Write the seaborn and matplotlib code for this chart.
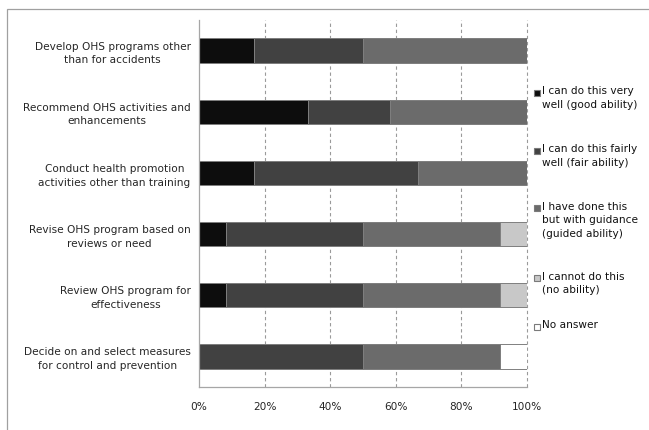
import matplotlib
matplotlib.use("Agg")
import matplotlib.pyplot as plt
import seaborn as sns
import pandas as pd
from matplotlib.patches import Rectangle

# Competency items (top to bottom)
tasks = [
    "Develop OHS programs other\nthan for accidents",
    "Recommend OHS activities and\nenhancements",
    "Conduct health promotion\nactivities other than training",
    "Revise OHS program based on\nreviews or need",
    "Review OHS program for\neffectiveness",
    "Decide on and select measures\nfor control and prevention",
]

# Share of respondents (%) per ability level
good_ability = [16.7, 33.3, 16.7, 8.3, 8.3, 0.0]
fair_ability = [33.3, 25.0, 50.0, 41.7, 41.7, 50.0]
guided_ability = [50.0, 41.7, 33.3, 41.7, 41.7, 41.7]
no_ability = [0.0, 0.0, 0.0, 8.3, 8.3, 0.0]
no_answer = [0.0, 0.0, 0.0, 0.0, 0.0, 8.3]

series_labels = [
    "I can do this very\nwell (good ability)",
    "I can do this fairly\nwell (fair ability)",
    "I have done this\nbut with guidance\n(guided ability)",
    "I cannot do this\n(no ability)",
    "No answer",
]
series_values = [good_ability, fair_ability, guided_ability, no_ability, no_answer]
series_colors = ["#0d0d0d", "#414141", "#6b6b6b", "#c8c8c8", "#ffffff"]

x_ticks = [0, 20, 40, 60, 80, 100]
x_tick_labels = ["0%", "20%", "40%", "60%", "80%", "100%"]

sns.set_style("white")
plt.rcParams["font.family"] = ["DejaVu Sans"]
plt.rcParams["font.size"] = 7.6

W, H = 649, 430
fig = plt.figure(figsize=(W / 100, H / 100), dpi=100)
ax = fig.add_axes([199 / W, 1 - 387 / H, (527 - 199) / W, (387 - 20) / H])

# Cumulative right edges of each segment
df = pd.DataFrame({"task": tasks})
running = [0.0] * len(tasks)
cum = []
for vals in series_values:
    running = [r + v for r, v in zip(running, vals)]
    cum.append(list(running))

# Draw from the outermost segment inwards so each stack reads left to right
for i in reversed(range(len(series_values))):
    df["edge"] = cum[i]
    sns.barplot(data=df, x="edge", y="task", orient="h", color=series_colors[i],
                saturation=1, width=0.4, edgecolor="#808080", linewidth=0.7, ax=ax)

ax.set_xlim(0, 100)
ax.set_ylim(len(tasks) - 0.5, -0.5)
ax.set_xlabel("")
ax.set_ylabel("")

# Dashed vertical gridlines
for xv in x_ticks[1:]:
    ax.axvline(xv, color="#9a9a9a", linewidth=0.8, linestyle=(0, (3, 2.5)),
               zorder=0, clip_on=False)

ax.set_xticks(x_ticks)
ax.set_xticklabels(x_tick_labels)
ax.tick_params(axis="x", length=3, width=0.8, color="#a6a6a6", pad=8, labelsize=7.6)

ax.set_yticks(range(len(tasks)))
ax.set_yticklabels(tasks)
ax.tick_params(axis="y", which="major", length=0, pad=6, labelsize=7.6)
ax.set_yticks([k - 0.5 for k in range(len(tasks) + 1)], minor=True)
ax.tick_params(axis="y", which="minor", length=4, width=0.8, color="#a6a6a6")
for lab in ax.get_yticklabels():
    lab.set_multialignment("center")
    lab.set_linespacing(1.45)

for side in ["top", "right"]:
    ax.spines[side].set_visible(False)
for side in ["left", "bottom"]:
    ax.spines[side].set_color("#a6a6a6")
    ax.spines[side].set_linewidth(0.9)

# Legend: square swatch beside the first line of each label
first_line_y = [93, 151, 208, 278, 327]
for lab, col, yc in zip(series_labels, series_colors, first_line_y):
    fig.patches.append(Rectangle((533.5 / W, 1 - (yc + 3) / H), 6 / W, 6 / H,
                                 transform=fig.transFigure, facecolor=col,
                                 edgecolor="#7a7a7a", linewidth=0.8))
    fig.text(542.5 / W, 1 - (yc - 6.5) / H, lab, ha="left", va="top",
             fontsize=7.6, linespacing=1.45, color="#111111")

# Chart frame
fig.patches.append(Rectangle((7 / W, -0.05), 1.2, 1 - 9 / H + 0.05,
                             transform=fig.transFigure, fill=False,
                             edgecolor="#a0a0a0", linewidth=0.9))

fig.savefig("out.png", dpi=100)
